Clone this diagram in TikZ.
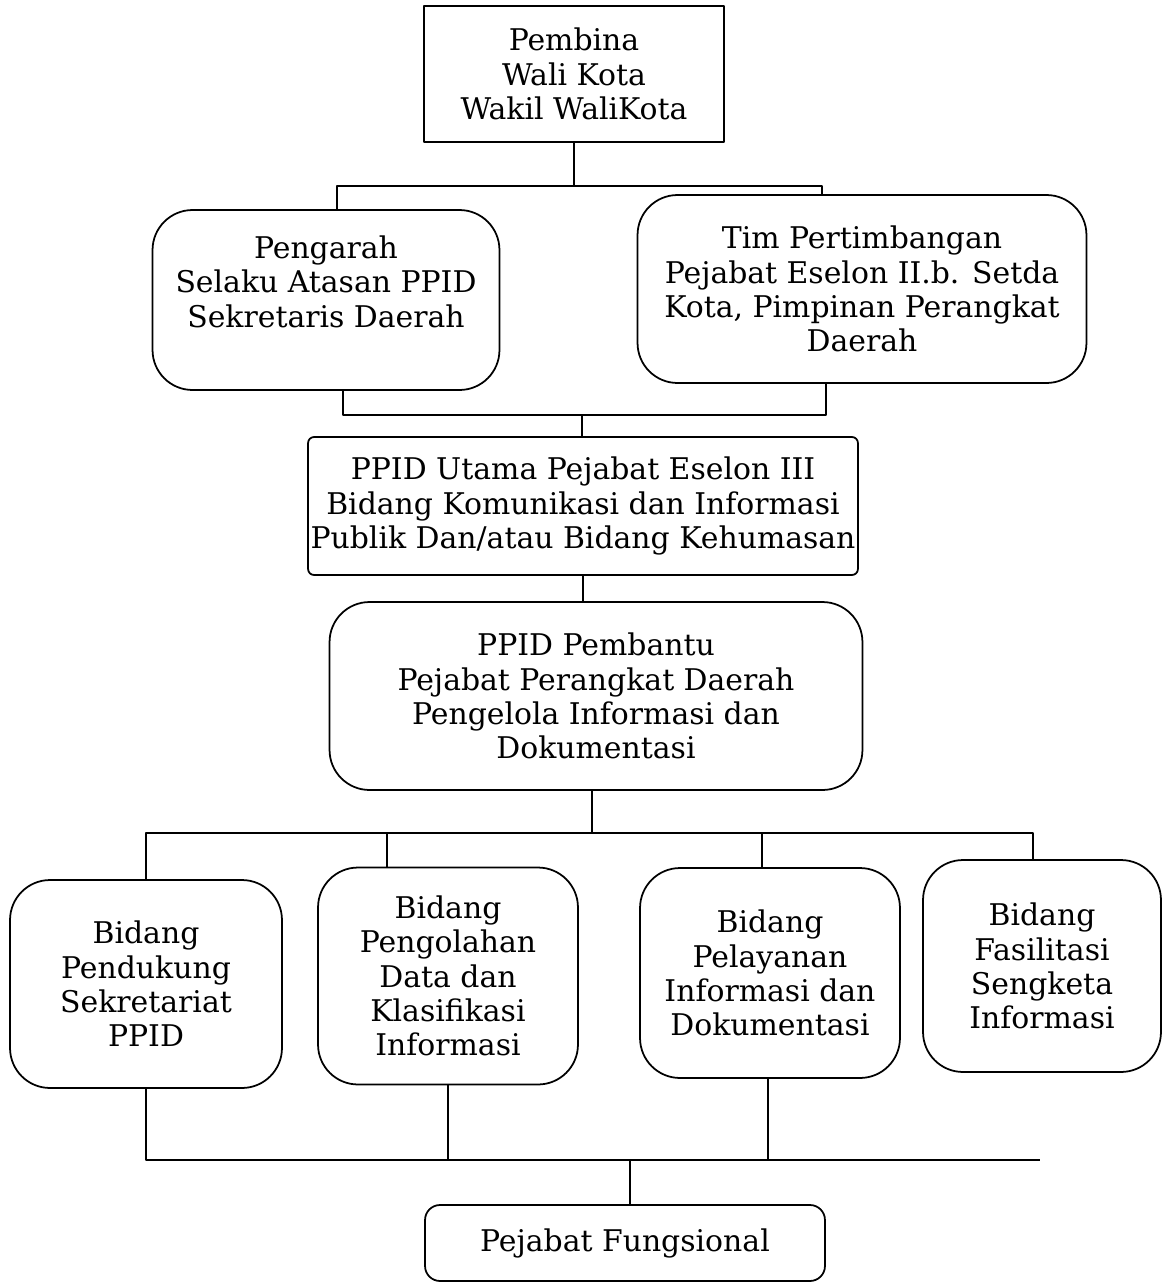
\documentclass[tikz,border=0pt]{standalone}
\usepackage{fontspec}
\setmainfont{DejaVu Serif}
\usetikzlibrary{calc}
\tikzset{
	kotak/.style={draw, line width=1pt, align=center, inner sep=0pt},
	kotakbulat/.style={kotak, rounded corners=0.8cm},
	garis/.style={line width=1pt}
}
\begin{document}
\begin{tikzpicture}[x=0.02cm, y=-0.02cm, font=\fontsize{17}{19.5}\selectfont, line join=round]
	\useasboundingbox (0,0) rectangle (1164,1285);
	% pimpinan
	\node[kotak, minimum width=6cm, minimum height=2.72cm] (pembina) at (574,74) {Pembina\\Wali Kota\\Wakil WaliKota};
	\node[kotakbulat, minimum width=6.94cm, minimum height=3.6cm] (pengarah) at (326,300) {Pengarah\\Selaku Atasan PPID\\Sekretaris Daerah\\[0.05cm]};
	\node[kotakbulat, minimum width=8.98cm, minimum height=3.76cm] (tim) at (862,289) {Tim Pertimbangan\\Pejabat Eselon II.b. Setda\\Kota, Pimpinan Perangkat\\Daerah};
	\node[kotak, rounded corners=0.12cm, minimum width=11cm, minimum height=2.76cm] (utama) at (583,506) {PPID Utama Pejabat Eselon III\\Bidang Komunikasi dan Informasi\\Publik Dan/atau Bidang Kehumasan};
	\node[kotakbulat, minimum width=10.66cm, minimum height=3.76cm] (pembantu) at (596,696) {PPID Pembantu\\Pejabat Perangkat Daerah\\Pengelola Informasi dan\\Dokumentasi};
	% bidang
	\node[kotakbulat, minimum width=5.44cm, minimum height=4.16cm] (b1) at (146,984) {Bidang\\Pendukung\\Sekretariat\\PPID};
	\node[kotakbulat, minimum width=5.2cm, minimum height=4.34cm] (b2) at (448,976) {Bidang\\Pengolahan\\Data dan\\Klasifikasi\\Informasi};
	\node[kotakbulat, minimum width=5.2cm, minimum height=4.2cm] (b3) at (770,973) {Bidang\\Pelayanan\\Informasi dan\\Dokumentasi};
	\node[kotakbulat, minimum width=4.76cm, minimum height=4.24cm] (b4) at (1042,966) {Bidang\\Fasilitasi\\Sengketa\\Informasi};
	\node[kotak, rounded corners=0.3cm, minimum width=8cm, minimum height=1.52cm] (fungsional) at (625,1243) {Pejabat Fungsional};
	% garis
	\coordinate (atas) at (575,186);
	\coordinate (tengah) at (582,415);
	\coordinate (cabang) at (592,833);
	\coordinate (bawah) at (630,1160);
	\coordinate (ujung) at (1040,1160);
	\draw[garis] (pembina.south) -- (pembina.south |- atas);
	\draw[garis] ($(pengarah.north)+(11,0)$) |- (atas) -| ($(tim.north)+(-40,0)$);
	\draw[garis] ($(pengarah.south)+(17,0)$) |- (tengah) -| ($(tim.south)+(-36,0)$);
	\draw[garis] (tengah) -- (tengah |- utama.north);
	\draw[garis] (utama.south) -- (utama.south |- pembantu.north);
	\draw[garis] (cabang |- pembantu.south) -- (cabang);
	\draw[garis] (b1.north) -- (b1.north |- cabang) -- ($(b4.north |- cabang)+(-9,0)$) -- ($(b4.north)+(-9,0)$);
	\draw[garis] ($(b2.north)+(-61,0)$) coordinate (d2) -- (d2 |- cabang);
	\draw[garis] ($(b3.north)+(-8,0)$) coordinate (d3) -- (d3 |- cabang);
	\draw[garis] (b1.south) -- (b1.south |- bawah) -- (ujung);
	\draw[garis] (b2.south) -- (b2.south |- bawah);
	\draw[garis] ($(b3.south)+(-2,0)$) coordinate (e3) -- (e3 |- bawah);
	\draw[garis] (bawah) -- (bawah |- fungsional.north);
\end{tikzpicture}
\end{document}
